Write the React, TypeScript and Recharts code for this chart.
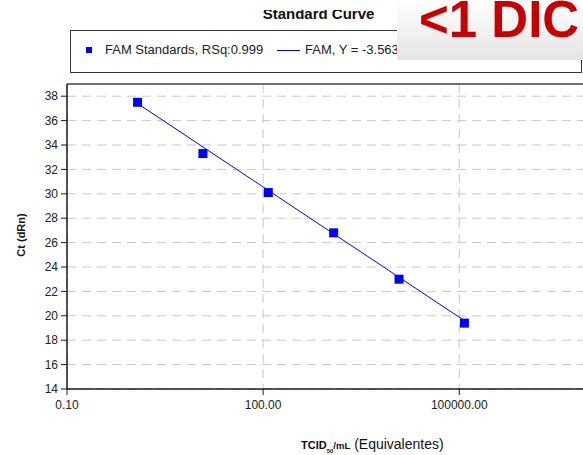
import React from 'react'
import {
  ScatterChart,
  Scatter,
  XAxis,
  YAxis,
  CartesianGrid,
  ReferenceLine,
} from 'recharts'

// FAM standards: concentration (TCID50/mL) vs Ct
const stdConc = [1.2, 12, 120, 1200, 12000, 120000]
const stdCt = [37.5, 33.3, 30.1, 26.8, 23.0, 19.4]

// ends of the fitted line
const fitConc = [1.2, 120000]
const fitCt = [37.4, 19.6]

const xTicks = [0.1, 100, 100000]
const yTicks = [14, 16, 18, 20, 22, 24, 26, 28, 30, 32, 34, 36, 38]

const standards = stdConc.map((x, i) => ({ x, y: stdCt[i] }))
const fit = fitConc.map((x, i) => ({ x, y: fitCt[i] }))

const font = 'Arial, "Liberation Sans", sans-serif'
const blue = '#0000ff'

const Square = (props: any) => {
  const { cx, cy } = props
  if (cx == null || cy == null) return <g />
  return <rect x={cx - 4.5} y={cy - 4.5} width={9} height={9} fill={blue} />
}

function App() {
  return (
    <div
      style={{
        position: 'fixed',
        left: 0,
        top: 0,
        width: 583,
        height: 455,
        overflow: 'hidden',
        background: '#fff',
        fontFamily: font,
      }}
    >
      <ScatterChart
        width={600}
        height={455}
        margin={{ top: 84, right: 10, left: 0, bottom: 0 }}
      >
        <CartesianGrid stroke="#c8c8c8" strokeDasharray="9 6" />
        <XAxis
          dataKey="x"
          type="number"
          scale="log"
          domain={[0.1, 10000000]}
          ticks={xTicks}
          allowDataOverflow
          height={66}
          tickFormatter={(v: number) => v.toFixed(2)}
          tick={{ fill: '#222', fontSize: 12, fontFamily: font }}
          axisLine={{ stroke: '#1a1a1a', strokeWidth: 1.5 }}
          tickLine={{ stroke: '#1a1a1a' }}
          tickSize={6}
          tickMargin={5}
        />
        <YAxis
          dataKey="y"
          type="number"
          domain={[14, 39]}
          ticks={yTicks}
          allowDataOverflow
          width={67}
          tick={{ fill: '#222', fontSize: 12, fontFamily: font }}
          axisLine={{ stroke: '#1a1a1a', strokeWidth: 1.5 }}
          tickLine={{ stroke: '#1a1a1a' }}
          tickSize={6}
          tickMargin={3}
        />
        <ReferenceLine y={39} stroke="#707070" strokeWidth={2} />
        <Scatter
          data={fit}
          line={{ stroke: blue, strokeWidth: 1 }}
          shape={() => <g />}
          isAnimationActive={false}
        />
        <Scatter data={standards} shape={Square} isAnimationActive={false} />
      </ScatterChart>

      {/* title */}
      <div
        style={{
          position: 'absolute',
          left: 0,
          top: 10,
          width: 637,
          height: 11,
          overflow: 'hidden',
          textAlign: 'center',
        }}
      >
        <div
          style={{
            marginTop: -3.7,
            fontSize: 15,
            lineHeight: '15px',
            fontWeight: 'bold',
            color: '#111',
          }}
        >
          Standard Curve
        </div>
      </div>

      {/* legend */}
      <div
        style={{
          position: 'absolute',
          left: 70,
          top: 30,
          width: 510,
          height: 41,
          border: '1px solid #333',
          fontSize: 13,
          color: '#222',
        }}
      >
        <div
          style={{
            position: 'absolute',
            left: 15,
            top: 16,
            width: 6,
            height: 6,
            background: blue,
          }}
        />
        <div style={{ position: 'absolute', left: 34, top: 11, whiteSpace: 'nowrap' }}>
          FAM Standards, RSq:0.999
        </div>
        <div
          style={{
            position: 'absolute',
            left: 206,
            top: 19,
            width: 23,
            height: 1,
            background: blue,
          }}
        />
        <div style={{ position: 'absolute', left: 234, top: 11, whiteSpace: 'nowrap' }}>
          FAM, Y = -3.563*LOG(X) + 37.69, Eff.: 90.8%
        </div>
      </div>

      {/* stamp */}
      <div
        style={{
          position: 'absolute',
          left: 397,
          top: 0,
          width: 186,
          height: 60,
          background: 'linear-gradient(#ffffff, #e4e4e4)',
        }}
      >
        <div
          style={{
            position: 'absolute',
            left: 22,
            top: -6.2,
            fontSize: 51,
            lineHeight: '51px',
            fontWeight: 'bold',
            color: '#c80000',
            whiteSpace: 'nowrap',
          }}
        >
          {'<1 DIC'}
        </div>
      </div>

      {/* y axis title */}
      <div
        style={{
          position: 'absolute',
          left: 21,
          top: 235,
          transform: 'translate(-50%, -50%) rotate(-90deg)',
          fontSize: 11,
          fontWeight: 'bold',
          whiteSpace: 'nowrap',
          color: '#111',
        }}
      >
        Ct (dRn)
      </div>

      {/* x axis title */}
      <div
        style={{
          position: 'absolute',
          left: 301,
          top: 436,
          whiteSpace: 'nowrap',
          color: '#111',
          lineHeight: '16px',
        }}
      >
        <span style={{ fontSize: 11, fontWeight: 'bold' }}>TCID</span>
        <sub style={{ fontSize: 6, fontWeight: 'bold', lineHeight: 0 }}>50</sub>
        <span style={{ fontSize: 9.5, fontWeight: 'bold' }}>/mL</span>
        <span style={{ fontSize: 14 }}> (Equivalentes)</span>
      </div>
    </div>
  )
}

export default App
